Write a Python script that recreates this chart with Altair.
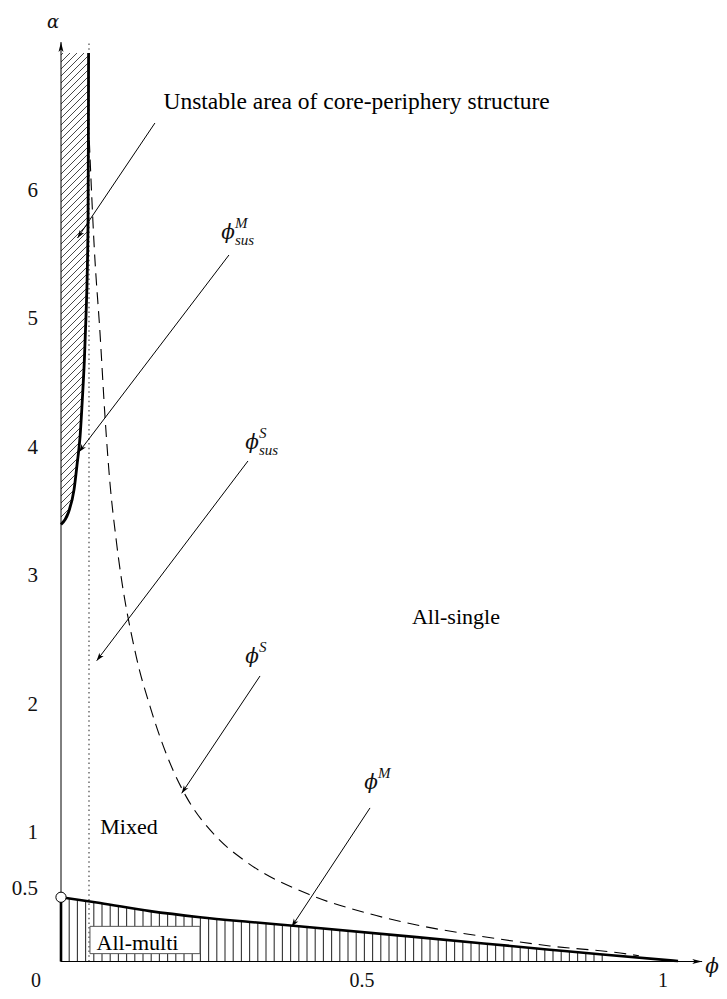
import math
import altair as alt
import numpy as np
import pandas as pd

# ---------------- data ----------------
x_tick_values = [0.5, 1.0]
x_tick_labels = ["0.5", "1"]
y_tick_values = [1, 2, 3, 4, 5, 6]
y_tick_labels = ["1", "2", "3", "4", "5", "6"]
origin_label = "0"
half_value = 0.5
half_label = "0.5"

# phi^M_sus : bold boundary of the unstable core-periphery area
sus_m_x = [0.0, 0.012, 0.0216, 0.027, 0.0316, 0.0354, 0.0388, 0.0415, 0.0437, 0.0450, 0.0455, 0.0458]
sus_m_y = [3.40, 3.49, 3.67, 3.88, 4.08, 4.37, 4.68, 5.02, 5.38, 5.80, 6.40, 7.07]

# phi^S_sus : dotted vertical line
sus_s_x = 0.0465

# phi^S : dashed curve
phi_s_x = [0.047, 0.0553, 0.0648, 0.0731, 0.0814, 0.0917, 0.125, 0.148, 0.186, 0.208,
           0.258, 0.308, 0.414, 0.508, 0.591, 0.696, 0.812, 0.929, 0.96]
phi_s_y = [6.39, 5.55, 4.89, 4.24, 3.72, 3.28, 2.372, 1.983, 1.49, 1.283,
           0.971, 0.775, 0.518, 0.377, 0.284, 0.198, 0.121, 0.066, 0.045]

# phi^M : bold lower curve
phi_m_x = [0.0, 0.065, 0.148, 0.231, 0.314, 0.386, 0.591, 0.812, 0.895, 1.025]
phi_m_y = [0.5, 0.455, 0.392, 0.345, 0.308, 0.278, 0.190, 0.092, 0.056, 0.004]

multi_hatch_end = 0.90     # right end of the vertically hatched area
x_axis_end = 1.065
y_axis_end = 7.155

# region labels
region_text = ["Unstable area of core-periphery structure", "All-single", "Mixed", "All-multi"]
region_x = [0.491, 0.656, 0.113, 0.127]
region_y = [6.689, 2.681, 1.047, 0.144]

# curve labels (phi with super/subscripts)
phi_sup = ["M", "S", "S", "M"]
phi_sub = ["sus", "sus", "", ""]
phi_lab_x = [0.2774, 0.3173, 0.3173, 0.515]
phi_lab_y = [5.669, 4.035, 2.370, 1.389]

# arrows (start -> tip)
arrow_x0 = [0.156, 0.279, 0.3106, 0.3306, 0.5133]
arrow_y0 = [6.525, 5.498, 3.895, 2.222, 1.195]
arrow_x1 = [0.0274, 0.0299, 0.0593, 0.2005, 0.3832]
arrow_y1 = [5.630, 3.965, 2.341, 1.309, 0.271]

# ---------------- layout ----------------
W, H = 711, 983
PX0, KX = 53.0, 602.0      # plot pixel of x=0, pixels per unit
PY0, KY = 953.5, 128.5     # plot pixel of y=0, pixels per unit
X0, X1 = -PX0 / KX, (W - PX0) / KX
Y0, Y1 = (PY0 - H) / KY, PY0 / KY

xs = alt.Scale(domain=[X0, X1], nice=False, zero=False)
ys = alt.Scale(domain=[Y0, Y1], nice=False, zero=False)


def ex(f="x"):
    return alt.X(f"{f}:Q", scale=xs, axis=None)


def ey(f="y"):
    return alt.Y(f"{f}:Q", scale=ys, axis=None)


SERIF = "Liberation Serif"
GREEK = "DejaVu Serif"

# ---- vertical hatch under phi^M ----
step_v = 8.2 / KX
hx = np.arange(0.0, multi_hatch_end + 1e-9, step_v)
vhatch = pd.DataFrame({"x": hx, "y": 0.0, "x2": hx, "y2": np.interp(hx, phi_m_x, phi_m_y)})

# ---- diagonal hatch in unstable area (computed in pixel space) ----
cpx = PX0 + KX * np.array(sus_m_x)
cpy = PY0 - KY * np.array(sus_m_y)
order = np.argsort(cpy)
cpy_s, cpx_s = cpy[order], cpx[order]
py_top, py_bot = cpy.min(), cpy.max()
segs = []
pxs = np.linspace(PX0, cpx.max() + 1, 800)
for c in np.arange(PX0 + py_top + 2, cpx.max() + py_bot, 7.0):
    pys = c - pxs
    inside = (pys >= py_top) & (pys <= py_bot) & (pxs <= np.interp(pys, cpy_s, cpx_s))
    if inside.sum() < 2:
        continue
    a, b = pxs[inside].min(), pxs[inside].max()
    segs.append({"x": (a - PX0) / KX, "y": (PY0 - (c - a)) / KY,
                 "x2": (b - PX0) / KX, "y2": (PY0 - (c - b)) / KY})
dhatch = pd.DataFrame(segs)

hatch_v = alt.Chart(vhatch).mark_rule(color="#333", strokeWidth=1.1).encode(
    x=ex(), y=ey(), x2="x2:Q", y2="y2:Q")
hatch_d = alt.Chart(dhatch).mark_rule(color="#333", strokeWidth=0.9).encode(
    x=ex(), y=ey(), x2="x2:Q", y2="y2:Q")

# dotted phi^S_sus
dotted = alt.Chart(pd.DataFrame({"x": [sus_s_x], "y": [0.0], "y2": [y_axis_end]})).mark_rule(
    color="#555", strokeWidth=1.3, strokeDash=[1.5, 3.2]).encode(x=ex(), y=ey(), y2="y2:Q")

# dashed phi^S
dashed = alt.Chart(pd.DataFrame({"x": phi_s_x, "y": phi_s_y, "i": range(len(phi_s_x))})).mark_line(
    color="black", strokeWidth=1.1, strokeDash=[12, 7], interpolate="monotone").encode(
    x=ex(), y=ey(), order="i:Q")

# axes
axes = alt.Chart(pd.DataFrame({"x": [0.0, 0.0], "y": [0.0, 0.0],
                               "x2": [x_axis_end, 0.0], "y2": [0.0, y_axis_end]})).mark_rule(
    color="black", strokeWidth=1).encode(x=ex(), y=ey(), x2="x2:Q", y2="y2:Q")

# bold curves
bold_sus = alt.Chart(pd.DataFrame({"x": sus_m_x, "y": sus_m_y, "i": range(len(sus_m_x))})).mark_line(
    color="black", strokeWidth=2.8, interpolate="monotone").encode(x=ex(), y=ey(), order="i:Q")
bold_m = alt.Chart(pd.DataFrame({"x": phi_m_x, "y": phi_m_y, "i": range(len(phi_m_x))})).mark_line(
    color="black", strokeWidth=2.6, interpolate="monotone").encode(x=ex(), y=ey(), order="i:Q")
bold_seg = alt.Chart(pd.DataFrame({"x": [0.0], "y": [0.0], "y2": [phi_m_y[0]]})).mark_rule(
    color="black", strokeWidth=2.6).encode(x=ex(), y=ey(), y2="y2:Q")

# All-multi box (white, framed), anchored at the label
reg = pd.DataFrame({"x": region_x, "y": region_y, "t": region_text})
box = alt.Chart(reg.iloc[[3]]).mark_point(
    shape="M-1,-0.248H1V0.248H-1Z", size=12100, filled=True, fill="white", stroke="#555",
    strokeWidth=1, opacity=1, xOffset=7.5, yOffset=-3).encode(x=ex(), y=ey())

reg_big = alt.Chart(reg.iloc[[0]]).mark_text(font=SERIF, fontSize=23.5, baseline="middle",
                                             align="center", color="black").encode(x=ex(), y=ey(), text="t:N")
reg_small = alt.Chart(reg.iloc[1:]).mark_text(font=SERIF, fontSize=22, baseline="middle",
                                              align="center", color="black").encode(x=ex(), y=ey(), text="t:N")

# phi labels
lab = pd.DataFrame({"x": phi_lab_x, "y": phi_lab_y, "sup": phi_sup, "sub": phi_sub, "phi": "\u03d5"})
phi_txt = alt.Chart(lab).mark_text(font=GREEK, fontSize=20, fontStyle="italic", baseline="middle",
                                   align="center", color="#111").encode(x=ex(), y=ey(), text="phi:N")
sup_txt = alt.Chart(lab).mark_text(font=SERIF, fontSize=15, fontStyle="italic", baseline="middle",
                                   align="left", dx=7, dy=-10, color="#111").encode(x=ex(), y=ey(), text="sup:N")
sub_txt = alt.Chart(lab).mark_text(font=SERIF, fontSize=15, fontStyle="italic", baseline="middle",
                                   align="left", dx=7, dy=7, color="#111").encode(x=ex(), y=ey(), text="sub:N")

# arrows
arr = pd.DataFrame({"x": arrow_x0, "y": arrow_y0, "x2": arrow_x1, "y2": arrow_y1})
arr_lines = alt.Chart(arr).mark_rule(color="black", strokeWidth=1).encode(
    x=ex(), y=ey(), x2="x2:Q", y2="y2:Q")


def head_angle(xa, ya, xb, yb):
    dxp = (xb - xa) * KX
    dyp = -(yb - ya) * KY
    return math.degrees(math.atan2(dxp, -dyp)) % 360


heads = pd.DataFrame({"x": arrow_x1, "y": arrow_y1,
                      "ang": [head_angle(a, b, c, d) for a, b, c, d in zip(arrow_x0, arrow_y0, arrow_x1, arrow_y1)]})
STEALTH = "M0,0L0.6,1.8L0,1.3L-0.6,1.8Z"
arr_heads = alt.Chart(heads).mark_point(shape=STEALTH, size=79, filled=True, color="black",
                                        opacity=1, strokeWidth=0).encode(
    x=ex(), y=ey(), angle=alt.Angle("ang:Q", scale=None))

axis_heads_df = pd.DataFrame({"x": [x_axis_end, 0.0], "y": [0.0, y_axis_end], "ang": [90.0, 0.0]})
AXHEAD = "M0,0L0.45,1.8L0,1.35L-0.45,1.8Z"
axis_heads = alt.Chart(axis_heads_df).mark_point(shape=AXHEAD, size=121, filled=True, color="black",
                                                 opacity=1, strokeWidth=0).encode(
    x=ex(), y=ey(), angle=alt.Angle("ang:Q", scale=None))

# tick labels
xt = pd.DataFrame({"x": x_tick_values, "y": 0.0, "t": x_tick_labels})
x_labels = alt.Chart(xt).mark_text(font=SERIF, fontSize=20, align="center", baseline="middle",
                                   dy=19, color="#111").encode(x=ex(), y=ey(), text="t:N")
org = pd.DataFrame({"x": [0.0], "y": [0.0], "t": [origin_label]})
o_label = alt.Chart(org).mark_text(font=SERIF, fontSize=20, align="center", baseline="middle",
                                   dx=-25, dy=19, color="#111").encode(x=ex(), y=ey(), text="t:N")
yt = pd.DataFrame({"x": 0.0, "y": y_tick_values, "t": y_tick_labels})
y_labels = alt.Chart(yt).mark_text(font=SERIF, fontSize=21, align="right", baseline="middle",
                                   dx=-23, color="#111").encode(x=ex(), y=ey(), text="t:N")
ht = pd.DataFrame({"x": [0.0], "y": [half_value], "t": [half_label]})
h_label = alt.Chart(ht).mark_text(font=SERIF, fontSize=21, align="right", baseline="middle",
                                  dx=-23, dy=-8, color="#111").encode(x=ex(), y=ey(), text="t:N")

# axis names
an = pd.DataFrame({"x": [0.0, x_axis_end], "y": [y_axis_end, 0.0], "t": ["\u03b1", "\u03d5"]})
alpha_lab = alt.Chart(an.iloc[[0]]).mark_text(font=GREEK, fontSize=18, fontStyle="italic",
                                              align="center", baseline="middle", dx=-8, dy=-19,
                                              color="#111").encode(x=ex(), y=ey(), text="t:N")
phi_ax_lab = alt.Chart(an.iloc[[1]]).mark_text(font=GREEK, fontSize=20, fontStyle="italic",
                                               align="center", baseline="middle", dx=10, dy=5,
                                               color="#111").encode(x=ex(), y=ey(), text="t:N")

# white circle at phi^M start
circ = alt.Chart(pd.DataFrame({"x": [phi_m_x[0]], "y": [phi_m_y[0]]})).mark_point(
    shape="circle", size=105, filled=True, fill="white", stroke="black", strokeWidth=1,
    opacity=1).encode(x=ex(), y=ey())

chart = alt.layer(
    hatch_v, hatch_d, dotted, dashed, axes, bold_sus, bold_m, bold_seg, box,
    reg_big, reg_small, phi_txt, sup_txt, sub_txt, arr_lines, arr_heads, axis_heads,
    x_labels, o_label, y_labels, h_label, alpha_lab, phi_ax_lab, circ
).properties(
    width=W, height=H, padding=0,
    autosize=alt.AutoSizeParams(type="none"),
    background="white",
).configure_view(stroke=None)

chart.save("out.html", embed_options={"renderer": "svg", "actions": False})
